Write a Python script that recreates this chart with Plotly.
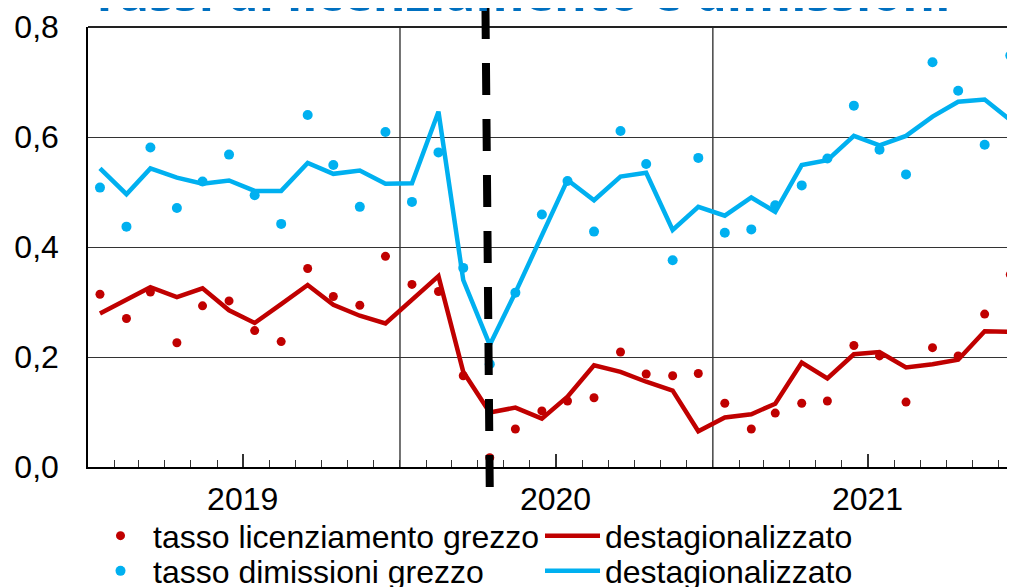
import plotly.graph_objects as go

# ---------------- data ----------------
years = [2019, 2020, 2021]
year_labels = ["2019", "2020", "2021"]

fire_raw = [0.314, 0.270, 0.318, 0.226, 0.293, 0.302, 0.248, 0.228, 0.361, 0.310, 0.294, 0.383,
            0.332, 0.319, 0.166, 0.017, 0.069, 0.102, 0.120, 0.126, 0.209, 0.169, 0.166, 0.170,
            0.116, 0.069, 0.098, 0.116, 0.120, 0.221, 0.202, 0.118, 0.217, 0.202, 0.278, 0.350]
fire_sa = [0.279, 0.305, 0.327, 0.309, 0.325, 0.285, 0.262, 0.296, 0.331, 0.295, 0.275, 0.261,
           0.305, 0.347, 0.173, 0.099, 0.108, 0.088, 0.128, 0.185, 0.173, 0.155, 0.139, 0.065,
           0.090, 0.096, 0.115, 0.190, 0.161, 0.205, 0.209, 0.181, 0.187, 0.195, 0.247, 0.246]
quit_raw = [0.508, 0.437, 0.581, 0.471, 0.519, 0.568, 0.494, 0.442, 0.640, 0.549, 0.473, 0.609,
            0.482, 0.572, 0.362, 0.187, 0.317, 0.459, 0.520, 0.428, 0.611, 0.551, 0.376, 0.562,
            0.426, 0.432, 0.476, 0.512, 0.561, 0.657, 0.577, 0.532, 0.736, 0.684, 0.586, 0.748]
quit_sa = [0.543, 0.496, 0.543, 0.526, 0.515, 0.521, 0.502, 0.502, 0.553, 0.533, 0.539, 0.515,
           0.516, 0.646, 0.340, 0.222, 0.317, 0.423, 0.522, 0.485, 0.528, 0.535, 0.431, 0.473,
           0.457, 0.490, 0.464, 0.549, 0.558, 0.602, 0.585, 0.602, 0.637, 0.664, 0.668, 0.631]

y_ticks = [0.0, 0.2, 0.4, 0.6, 0.8]
event_dates = ["2020-04-10", "2020-04-15"]   # pandemic marker (top -> bottom)
x_range = ["2019-01-01", "2021-12-20 12:00"]

title_text = "Tassi di licenziamento e dimissioni"
names = ["tasso licenziamento grezzo", "destagionalizzato",
         "tasso dimissioni grezzo", "destagionalizzato"]

RED = "#C00000"
BLUE = "#00B0F0"
FONT = "Liberation Sans, Arial, sans-serif"

# monthly observations dated mid-month
dates = [f"{y}-{m:02d}-15" for y in years for m in range(1, 13)]

fig = go.Figure()
fig.add_trace(go.Scatter(x=dates, y=fire_raw, mode="markers", name=names[0],
                         marker=dict(color=RED, size=9), legend="legend"))
fig.add_trace(go.Scatter(x=dates, y=fire_sa, mode="lines", name=names[1],
                         line=dict(color=RED, width=4.5), legend="legend"))
fig.add_trace(go.Scatter(x=dates, y=quit_raw, mode="markers", name=names[2],
                         marker=dict(color=BLUE, size=10), legend="legend2"))
fig.add_trace(go.Scatter(x=dates, y=quit_sa, mode="lines", name=names[3],
                         line=dict(color=BLUE, width=4.5), legend="legend2"))

# year boundary gridlines
for y in years[1:]:
    fig.add_shape(type="line", xref="x", yref="paper", x0=f"{y}-01-01", x1=f"{y}-01-01",
                  y0=0, y1=1, layer="below", line=dict(color="#444444", width=1.5))
# top border
fig.add_shape(type="line", xref="paper", yref="paper", x0=0, x1=1, y0=1, y1=1,
              layer="below", line=dict(color="#222222", width=2))

# dashed event line
fig.add_shape(type="line", xref="x", yref="paper", x0=event_dates[0], x1=event_dates[1],
              y0=1.0455, y1=-0.0455, layer="above",
              line=dict(color="black", width=8, dash="32px,24px"))

fig.add_annotation(text="<b>" + title_text + "</b>", xref="paper", yref="paper",
                   x=0.0, y=1, xanchor="left", yanchor="bottom", yshift=-1, xshift=0,
                   showarrow=False,
                   font=dict(family="Open Sans, sans-serif", size=50, color="#0070C0"))

legend_common = dict(orientation="h", xanchor="left", yanchor="top",
                     font=dict(family=FONT, size=32, color="black"),
                     itemwidth=55, entrywidth=382, entrywidthmode="pixels",
                     bgcolor="rgba(0,0,0,0)", itemclick=False)

fig.update_layout(
    width=1007, height=579,
    margin=dict(l=80, r=0, t=19, b=120, autoexpand=False),
    paper_bgcolor="white", plot_bgcolor="white",
    separators=",.",
    font=dict(family=FONT, size=32, color="black"),
    legend=dict(x=0.0, y=-0.094, **legend_common),
    legend2=dict(x=0.0, y=-0.174, **legend_common),
    xaxis=dict(type="date", range=x_range,
               tickmode="array", tickvals=[f"{y}-07-01" for y in years], ticktext=year_labels,
               ticks="inside", ticklen=13, tickwidth=1.5, tickcolor="#333",
               showgrid=False, zeroline=False, showline=True, linecolor="black", linewidth=1.5,
               ticklabelstandoff=3,
               minor=dict(tickmode="linear", dtick="M1", tick0="2019-01-01", ticks="inside",
                          ticklen=7, tickwidth=1.2, tickcolor="#333", showgrid=False),
               tickfont=dict(size=32)),
    yaxis=dict(range=[0, 0.8], tickvals=y_ticks, tickformat=".1f", showgrid=True,
               gridcolor="#333333", gridwidth=1.3, zeroline=False, showline=True,
               linecolor="black", linewidth=1.5, ticks="", ticklabelstandoff=21,
               tickfont=dict(size=32)),
)

fig.write_html("out.html")
